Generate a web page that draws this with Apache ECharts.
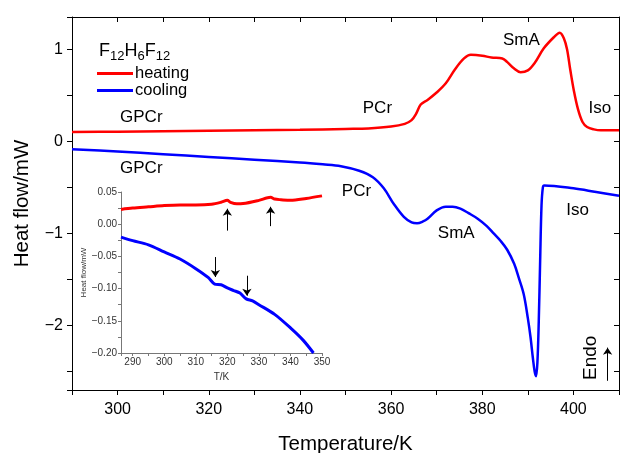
<!DOCTYPE html>
<html>
<head>
<meta charset="utf-8">
<script src="https://cdn.jsdelivr.net/npm/echarts@6/dist/echarts.min.js"></script>
<style>
  html, body { margin: 0; padding: 0; background: #fff; }
  #chart { width: 621px; height: 453px; }
</style>
</head>
<body>
<div id="chart"></div>
<script>
// main DSC curves (T in K, heat flow in mW)
const heatT = [290, 300, 310, 320, 330, 340, 350, 355, 360, 363, 364.5, 365.5, 366.5, 368, 370, 372, 374, 376, 377.5, 380, 382, 384.4, 385.5, 387, 388.4, 390, 391.5, 393.5, 395.7, 397, 397.9, 398.6, 399.3, 400.1, 401, 402, 403, 404.5, 406, 410];
const heatQ = [0.10, 0.105, 0.11, 0.115, 0.12, 0.125, 0.135, 0.14, 0.16, 0.19, 0.23, 0.30, 0.40, 0.45, 0.53, 0.63, 0.78, 0.90, 0.94, 0.93, 0.91, 0.90, 0.86, 0.79, 0.75, 0.77, 0.85, 1.01, 1.13, 1.18, 1.12, 1.0, 0.78, 0.55, 0.35, 0.21, 0.156, 0.13, 0.12, 0.12];

const coolT = [290, 300, 310, 320, 330, 340, 345, 349, 353, 356, 358.4, 360.6, 362.8, 364.5, 365.7, 367, 368, 370, 372, 373.5, 375.2, 377, 379, 381, 382.5, 384, 385.5, 387, 388, 389.1, 390, 390.6, 391.1, 391.5, 391.8, 392.1, 392.4, 392.7, 393.0, 393.3, 393.6, 400, 405, 410];
const coolQ = [-0.087, -0.11, -0.14, -0.17, -0.20, -0.23, -0.25, -0.27, -0.32, -0.39, -0.51, -0.68, -0.82, -0.88, -0.89, -0.87, -0.84, -0.75, -0.71, -0.71, -0.73, -0.78, -0.84, -0.92, -1.0, -1.08, -1.18, -1.33, -1.48, -1.66, -1.92, -2.13, -2.35, -2.5, -2.55, -2.4, -1.95, -1.3, -0.7, -0.5, -0.48, -0.51, -0.55, -0.59];

// inset: low temperature detail
const insetHeatT = [286.3, 290, 295, 300, 305, 310, 315, 318, 320, 321, 323, 325, 330, 333.7, 335, 337, 340, 345, 350];
const insetHeatQ = [0.023, 0.025, 0.027, 0.029, 0.030, 0.030, 0.031, 0.034, 0.037, 0.034, 0.0316, 0.032, 0.037, 0.0417, 0.039, 0.038, 0.037, 0.040, 0.044];
const insetCoolT = [286.3, 290, 295, 300, 305, 310, 314, 316, 318, 320, 322, 324, 326, 328, 330, 335, 340, 344, 347.3];
const insetCoolQ = [-0.020, -0.0255, -0.032, -0.043, -0.054, -0.069, -0.083, -0.093, -0.094, -0.099, -0.103, -0.107, -0.116, -0.119, -0.125, -0.140, -0.161, -0.180, -0.200];

// arrows in the inset: [T, from, to]
const insetUpArrows = [[320, -0.010, 0.024], [333.7, -0.003, 0.027]];
const insetDownArrows = [[316.2, -0.051, -0.082], [326.2, -0.080, -0.111]];

// phase labels (data coords of the label centre)
const phaseLabels = [
  ['GPCr', 305.2, 0.26], ['GPCr', 305.2, -0.29],
  ['PCr', 357.0, 0.36], ['SmA', 388.6, 1.10], ['Iso', 405.8, 0.36],
  ['PCr', 352.4, -0.54], ['SmA', 374.3, -1.00], ['Iso', 400.9, -0.75]
];

// compound name: [text, subscript?]
const compound = [['F', false], ['12', true], ['H', false], ['6', true], ['F', false], ['12', true]];

const mainXLabels = [300, 320, 340, 360, 380, 400];
const mainYLabels = [-2, -1, 0, 1];
const insetXLabels = [290, 300, 310, 320, 330, 340, 350];
const insetYLabels = [-0.2, -0.15, -0.1, -0.05, 0, 0.05];

const FONT = 'Liberation Sans, Arial, Helvetica, sans-serif';
const zip = (a, b) => a.map((v, i) => [v, b[i]]);
const minus = s => String(s).replace('-', '\u2212');

const chart = echarts.init(document.getElementById('chart'));

const frameLine = { show: true, onZero: false, lineStyle: { color: '#000', width: 1 } };
const insetLine = { show: true, onZero: false, lineStyle: { color: '#777', width: 1 } };
const arrowMark = data => ({
  silent: true, symbol: ['none', 'arrow'], symbolSize: 7,
  label: { show: false },
  emphasis: { disabled: true },
  lineStyle: { color: '#000', width: 1, type: 'solid' },
  data: data
});

const option = {
  animation: false,
  textStyle: { fontFamily: FONT },
  legend: {
    data: ['heating', 'cooling'],
    orient: 'vertical',
    left: 92, top: 60,
    icon: 'rect',
    itemWidth: 36, itemHeight: 3,
    itemGap: 0,
    textStyle: { fontSize: 16.5, color: '#000', fontFamily: FONT, lineHeight: 16, padding: [0, 0, 0, -3] }
  },
  grid: [
    { left: 72, right: 2, top: 17, bottom: 63, outerBoundsMode: 'none' },
    { left: 121, right: 299, top: 192, bottom: 100, outerBoundsMode: 'none' }
  ],
  xAxis: [
    {
      gridIndex: 0, type: 'value', min: 290, max: 410, interval: 10,
      name: 'Temperature/K', nameLocation: 'middle', nameGap: 44,
      nameTextStyle: { fontSize: 20.5, color: '#000', fontFamily: FONT },
      axisLine: frameLine,
      axisTick: { show: true, length: 5, inside: false, lineStyle: { color: '#000' } },
      axisLabel: { fontSize: 16, color: '#000', margin: 12, customValues: mainXLabels },
      splitLine: { show: false }
    },
    {
      gridIndex: 0, type: 'value', min: 290, max: 410, interval: 10, position: 'top',
      axisLine: frameLine,
      axisTick: { show: true, length: 5, inside: true, lineStyle: { color: '#000' } },
      axisLabel: { show: false },
      splitLine: { show: false }
    },
    {
      gridIndex: 1, type: 'value', min: 286.3, max: 350, splitNumber: 13,
      name: 'T/K', nameLocation: 'middle', nameGap: 19,
      nameTextStyle: { fontSize: 10, color: '#333', fontFamily: FONT },
      axisLine: insetLine,
      axisTick: { show: true, length: 3, lineStyle: { color: '#777' } },
      axisLabel: { fontSize: 10, color: '#333', margin: 4, customValues: insetXLabels },
      splitLine: { show: false }
    }
  ],
  yAxis: [
    {
      gridIndex: 0, type: 'value', min: -2.7, max: 1.35, splitNumber: 8,
      name: 'Heat flow/mW', nameLocation: 'middle', nameGap: 39,
      nameTextStyle: { fontSize: 20.5, color: '#000', fontFamily: FONT },
      axisLine: frameLine,
      axisTick: { show: true, length: 5, inside: false, lineStyle: { color: '#000' } },
      axisLabel: { fontSize: 16, color: '#000', margin: 9, customValues: mainYLabels, formatter: v => minus(v) },
      splitLine: { show: false }
    },
    {
      gridIndex: 0, type: 'value', min: -2.7, max: 1.35, splitNumber: 8, position: 'right',
      axisLine: frameLine,
      axisTick: { show: true, length: 5, inside: true, lineStyle: { color: '#000' } },
      axisLabel: { show: false },
      splitLine: { show: false }
    },
    {
      gridIndex: 1, type: 'value', min: -0.2, max: 0.05, interval: 0.025,
      name: 'Heat flow/mW', nameLocation: 'middle', nameGap: 33,
      nameTextStyle: { fontSize: 8, color: '#333', fontFamily: FONT },
      axisLine: insetLine,
      axisTick: { show: true, length: 3, lineStyle: { color: '#777' } },
      axisLabel: { fontSize: 10, color: '#333', margin: 4, customValues: insetYLabels, formatter: v => minus(v.toFixed(2)) },
      splitLine: { show: false }
    }
  ],
  series: [
    {
      name: 'heating', type: 'line', xAxisIndex: 0, yAxisIndex: 0,
      data: zip(heatT, heatQ), showSymbol: false, smooth: 0.35,
      lineStyle: { color: '#ff0000', width: 2.5 }, itemStyle: { color: '#ff0000' }
    },
    {
      name: 'cooling', type: 'line', xAxisIndex: 0, yAxisIndex: 0,
      data: zip(coolT, coolQ), showSymbol: false, smooth: 0.35,
      lineStyle: { color: '#0000ff', width: 2.5 }, itemStyle: { color: '#0000ff' },
      markLine: arrowMark([[{ coord: [407.5, -2.6] }, { coord: [407.5, -2.24] }]])
    },
    {
      name: 'inset heating', type: 'line', xAxisIndex: 2, yAxisIndex: 2,
      data: zip(insetHeatT, insetHeatQ), showSymbol: false, smooth: 0.3,
      lineStyle: { color: '#ff0000', width: 3 },
      markLine: arrowMark(insetUpArrows.map(a => [{ coord: [a[0], a[1]] }, { coord: [a[0], a[2]] }]))
    },
    {
      name: 'inset cooling', type: 'line', xAxisIndex: 2, yAxisIndex: 2,
      data: zip(insetCoolT, insetCoolQ), showSymbol: false, smooth: 0.3,
      lineStyle: { color: '#0000ff', width: 3 },
      markLine: arrowMark(insetDownArrows.map(a => [{ coord: [a[0], a[1]] }, { coord: [a[0], a[2]] }]))
    }
  ]
};

chart.setOption(option);

// phase labels placed through the main grid's scales
const graphics = phaseLabels.map(p => {
  const pt = chart.convertToPixel({ xAxisIndex: 0, yAxisIndex: 0 }, [p[1], p[2]]);
  return {
    type: 'text', x: pt[0], y: pt[1],
    style: { text: p[0], font: '17px ' + FONT, fill: '#000', align: 'center', verticalAlign: 'middle' }
  };
});
const endoPt = chart.convertToPixel({ xAxisIndex: 0, yAxisIndex: 0 }, [403.8, -2.35]);
graphics.push({
  type: 'text', x: endoPt[0], y: endoPt[1], rotation: Math.PI / 2,
  style: { text: 'Endo', font: '19px ' + FONT, fill: '#000', align: 'center', verticalAlign: 'middle' }
});

// compound name with real subscripts
const ctx = document.createElement('canvas').getContext('2d');
let cx = 99;
compound.forEach(([t, sub]) => {
  const font = (sub ? '13px ' : '18px ') + FONT;
  ctx.font = font;
  graphics.push({
    type: 'text', x: cx, y: sub ? 49.5 : 42.5,
    style: { text: t, font: font, fill: '#000', align: 'left', verticalAlign: 'alphabetic' }
  });
  cx += ctx.measureText(t).width;
});
chart.setOption({ graphic: graphics });
</script>
</body>
</html>
